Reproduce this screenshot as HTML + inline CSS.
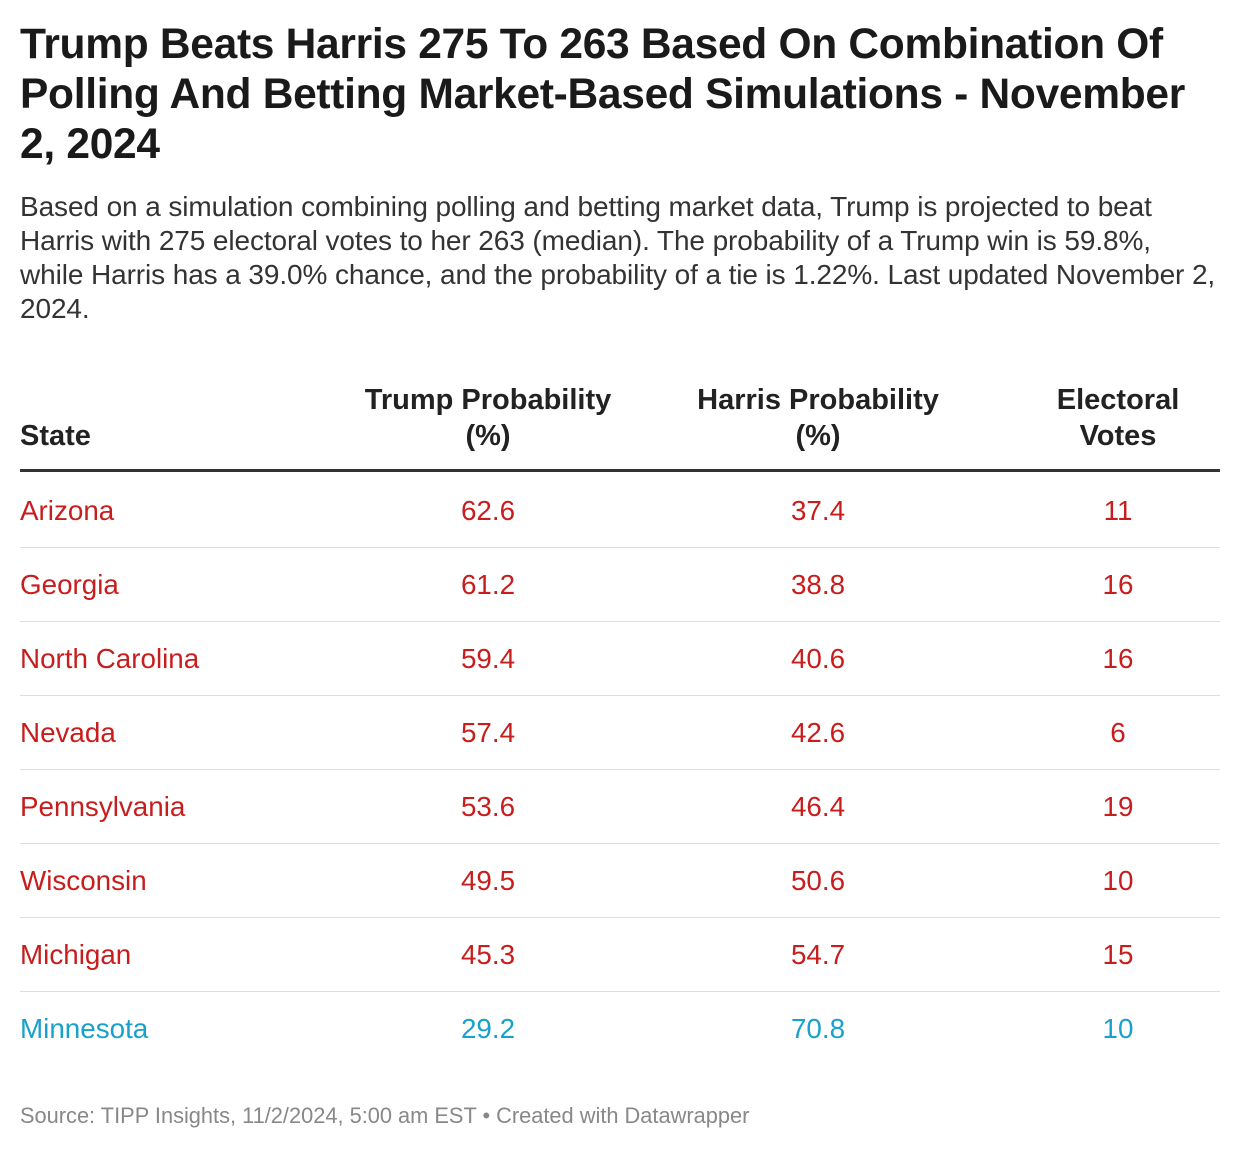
<!DOCTYPE html>
<html><head><meta charset="utf-8">
<style>
html,body{margin:0;padding:0;background:#fff;}
body{width:1240px;height:1150px;position:relative;font-family:"Liberation Sans",Arial,sans-serif;color:#222;overflow:hidden;}
#title{position:absolute;left:20px;top:20px;width:1220px;font-size:42.5px;font-weight:bold;line-height:50px;color:#1a1a1a;margin:0;letter-spacing:-0.3px;white-space:nowrap;}
#subtitle{position:absolute;left:20px;top:190px;width:1220px;font-size:28px;line-height:34px;color:#333;margin:0;white-space:nowrap;letter-spacing:-0.1px;}
.hdr{position:absolute;font-weight:bold;font-size:29px;line-height:36px;color:#222;text-align:center;}
#hline{position:absolute;left:20px;top:469px;width:1200px;height:3px;background:#333;}
.cell{position:absolute;font-size:27.8px;line-height:30px;}
.sep{position:absolute;left:20px;width:1200px;height:1px;background:#ddd;}
#footer{position:absolute;left:20px;top:1103px;font-size:21.8px;color:#888;}
</style></head>
<body>
<h1 id="title">Trump Beats Harris 275 To 263 Based On Combination Of<br>Polling And Betting Market-Based Simulations - November<br>2, 2024</h1>
<p id="subtitle">Based on a simulation combining polling and betting market data, Trump is projected to beat<br>Harris with 275 electoral votes to her 263 (median). The probability of a Trump win is 59.8%,<br>while Harris has a 39.0% chance, and the probability of a tie is 1.22%. Last updated November 2,<br>2024.</p>
<div class="hdr" style="left:20px;top:418px;text-align:left;">State</div>
<div class="hdr" style="left:338px;width:300px;top:382px;">Trump Probability<br>(%)</div>
<div class="hdr" style="left:668px;width:300px;top:382px;">Harris Probability<br>(%)</div>
<div class="hdr" style="left:1018px;width:200px;top:382px;">Electoral<br>Votes</div>
<div id="hline"></div>
<div id="rows"></div>
<div id="footer">Source: TIPP Insights, 11/2/2024, 5:00 am EST • Created with Datawrapper</div>
<script>
const states=["Arizona","Georgia","North Carolina","Nevada","Pennsylvania","Wisconsin","Michigan","Minnesota"];
const trumpProb=["62.6","61.2","59.4","57.4","53.6","49.5","45.3","29.2"];
const harrisProb=["37.4","38.8","40.6","42.6","46.4","50.6","54.7","70.8"];
const electoralVotes=["11","16","16","6","19","10","15","10"];
const rows=document.getElementById('rows');
states.forEach((s,i)=>{
  const cy=511+i*74;
  const color=parseFloat(harrisProb[i])>60?'#18a1cd':'#c71e1d';
  const mk=(txt,left,width,align,name)=>{
    const d=document.createElement('div');
    d.className='cell';
    
    
    d.style.left=left+'px';d.style.width=width+'px';d.style.textAlign=align;
    d.style.top=(cy-15)+'px';d.style.color=color;
    d.textContent=txt;rows.appendChild(d);
  };
  mk(s,20,300,'left','state-cell');
  mk(trumpProb[i],388,200,'center','trump-probability-cell');
  mk(harrisProb[i],718,200,'center','harris-probability-cell');
  mk(electoralVotes[i],1018,200,'center','electoral-votes-cell');
  if(i<states.length-1){
    const l=document.createElement('div');
    l.className='sep';
    
    
    l.style.top=(cy+36)+'px';rows.appendChild(l);
  }
});
</script>
</body></html>
